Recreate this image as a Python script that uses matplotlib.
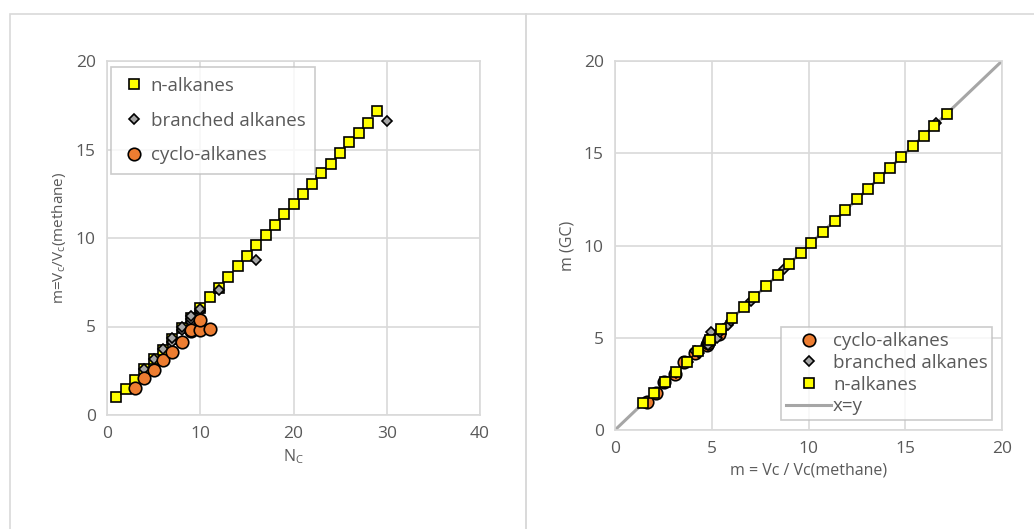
import matplotlib.pyplot as plt
from matplotlib.patches import Rectangle

plt.rcParams['font.family'] = ['Open Sans', 'DejaVu Sans']

# left chart: m vs carbon number
n_alk_nc = list(range(1, 30))
n_alk_m = [1.0, 1.45, 2.0, 2.6, 3.15, 3.7, 4.3, 4.9, 5.5, 6.05, 6.65, 7.2, 7.8, 8.4, 9.0,
           9.6, 10.15, 10.75, 11.35, 11.9, 12.5, 13.05, 13.65, 14.2, 14.8, 15.4, 15.95, 16.5, 17.15]
br_nc = [4, 5, 6, 7, 7, 8, 8, 9, 9, 9, 10, 10, 12, 16, 30]
br_m = [2.6, 3.15, 3.75, 4.15, 4.35, 4.8, 4.95, 5.25, 5.45, 5.6, 5.85, 6.0, 7.05, 8.75, 16.6]
cy_nc = [3, 4, 5, 6, 7, 8, 9, 9, 10, 10, 11]
cy_m = [1.55, 2.07, 2.55, 3.1, 3.55, 4.1, 4.75, 4.8, 4.8, 5.35, 4.85]

# right chart: m from GC vs m from Vc
n_alk_x = n_alk_m[1:]
n_alk_gc = [1.45, 2.0, 2.6, 3.15, 3.7, 4.3, 4.9, 5.5, 6.05, 6.65, 7.2, 7.8, 8.4, 9.0,
            9.6, 10.15, 10.75, 11.35, 11.9, 12.5, 13.05, 13.65, 14.2, 14.8, 15.4, 15.95, 16.5, 17.15]
br_x = br_m
br_gc = [2.55, 3.1, 3.7, 4.3, 4.2, 4.6, 5.3, 5.0, 5.3, 5.5, 5.7, 5.9, 7.0, 8.7, 16.65]
cy_x = [1.65, 2.1, 2.55, 3.1, 3.55, 4.15, 4.75, 4.8, 4.85, 5.35]
cy_gc = [1.5, 2.0, 2.6, 3.05, 3.7, 4.15, 4.6, 4.7, 4.9, 5.2]
line_xy = [0, 20]

txt = '#595959'
grid = '#D9D9D9'
yellow = '#FFFF00'
gray = '#A5A5A5'
orange = '#ED7D31'

fig = plt.figure(figsize=(10.34, 5.29), dpi=100)
fig.patches.append(Rectangle((10 / 1034, -0.1), 516 / 1034, 1.1 - 14 / 529, transform=fig.transFigure,
                             fill=False, edgecolor=grid, lw=1.2))
fig.patches.append(Rectangle((526 / 1034, -0.1), 0.6, 1.1 - 14 / 529, transform=fig.transFigure,
                             fill=False, edgecolor=grid, lw=1.2))

ax1 = fig.add_axes([107 / 1034, 1 - 415 / 529, 373 / 1034, 354 / 529])
ax2 = fig.add_axes([615 / 1034, 1 - 430 / 529, 387 / 1034, 369 / 529])

sq = dict(marker='s', ms=7, mfc=yellow, mec='black', mew=1.2, ls='none')
dm = dict(marker='D', ms=5.5, mfc=gray, mec='black', mew=1.2, ls='none')
ci = dict(marker='o', ms=9, mfc=orange, mec='black', mew=1.2, ls='none')

ax1.plot(n_alk_nc, n_alk_m, label='n-alkanes', zorder=3, **sq)
ax1.plot(br_nc, br_m, label='branched alkanes', zorder=4, **dm)
ax1.plot(cy_nc, cy_m, label='cyclo-alkanes', zorder=5, **ci)
ax1.set_xlim(0, 40)
ax1.set_ylim(0, 20)
ax1.set_xticks([0, 10, 20, 30, 40])
ax1.set_yticks([0, 5, 10, 15, 20])
ax1.set_xlabel('N$_\\mathregular{C}$', color=txt, fontsize=11.5)
ax1.set_ylabel('m=V$_\\mathregular{c}$/V$_\\mathregular{c}$(methane)', color=txt, fontsize=11, labelpad=6)
leg1 = ax1.legend(loc='upper left', bbox_to_anchor=(0.012, 0.982), fontsize=13.5, frameon=True, fancybox=False,
                  borderaxespad=0, handletextpad=0.2, labelspacing=0.9, borderpad=0.5, handlelength=1.4)

ax2.plot(cy_x, cy_gc, label='cyclo-alkanes', zorder=3, **ci)
ax2.plot(br_x, br_gc, label='branched alkanes', zorder=4, **dm)
ax2.plot(n_alk_x, n_alk_gc, label='n-alkanes', zorder=5, **sq)
ax2.plot(line_xy, line_xy, color='#A6A6A6', lw=2.2, label='x=y', zorder=2)
ax2.set_xlim(0, 20)
ax2.set_ylim(0, 20)
ax2.set_xticks([0, 5, 10, 15, 20])
ax2.set_yticks([0, 5, 10, 15, 20])
ax2.set_xlabel('m = Vc / Vc(methane)', color=txt, fontsize=11.5)
ax2.set_ylabel('m (GC)', color=txt, fontsize=11.5, labelpad=6)
leg2 = ax2.legend(loc='lower right', bbox_to_anchor=(0.975, 0.027), fontsize=13.5, frameon=True, fancybox=False,
                  borderaxespad=0, handletextpad=0.1, labelspacing=0.2, borderpad=0.25, handlelength=2.4)

for leg in (leg1, leg2):
    leg.get_frame().set_edgecolor('#BFBFBF')
    leg.get_frame().set_linewidth(1.2)
    for t in leg.get_texts():
        t.set_color(txt)

for ax in (ax1, ax2):
    ax.grid(True, color=grid, lw=1.2)
    ax.set_axisbelow(True)
    ax.tick_params(length=0, labelsize=12.5, labelcolor=txt, pad=8)
    for s in ax.spines.values():
        s.set_color(grid)
        s.set_linewidth(1.2)

fig.savefig('out.png', dpi=100)
